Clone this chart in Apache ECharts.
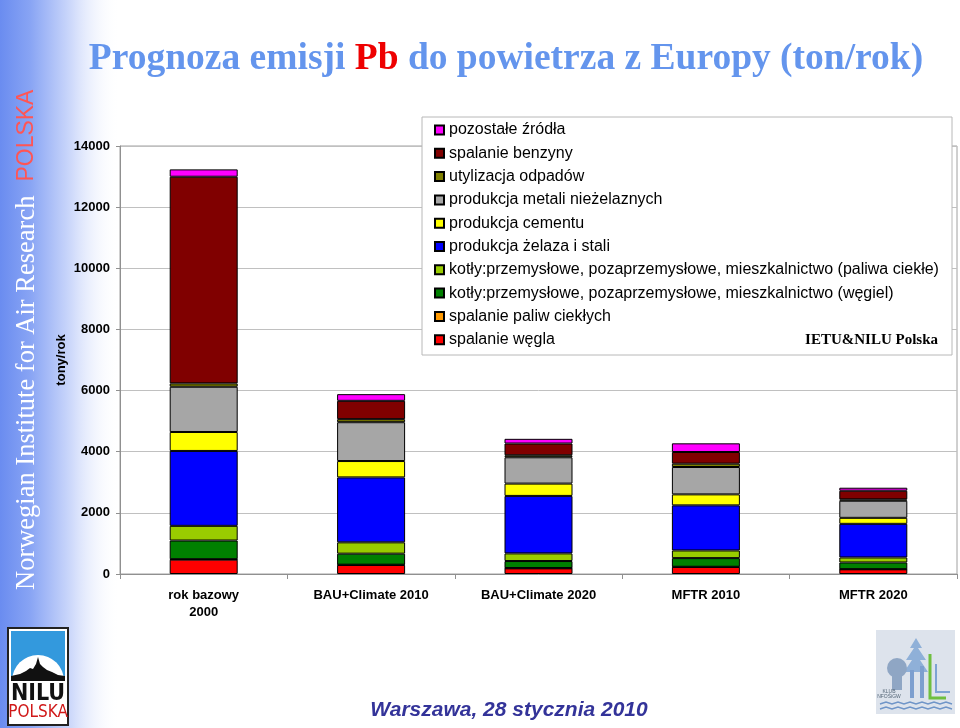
<!DOCTYPE html>
<html><head><meta charset="utf-8">
<script src="https://cdn.jsdelivr.net/npm/echarts@6/dist/echarts.min.js"></script>
<style>html,body{margin:0;padding:0;background:#fff}#c{width:960px;height:728px}</style>
</head><body><div id="c"></div>
<script>
const categories = ['rok bazowy\n2000', 'BAU+Climate 2010', 'BAU+Climate 2020', 'MFTR 2010', 'MFTR 2020'];
const yTicks = [0, 2000, 4000, 6000, 8000, 10000, 12000, 14000];
const seriesNames = [
  'spalanie węgla',
  'spalanie paliw ciekłych',
  'kotły:przemysłowe, pozaprzemysłowe, mieszkalnictwo (węgiel)',
  'kotły:przemysłowe, pozaprzemysłowe, mieszkalnictwo (paliwa ciekłe)',
  'produkcja żelaza i stali',
  'produkcja cementu',
  'produkcja metali nieżelaznych',
  'utylizacja odpadów',
  'spalanie benzyny',
  'pozostałe źródła'
];
const spalanieWegla = [470, 295, 185, 229, 153];
const spalaniePaliwCieklych = [15, 10, 10, 8, 6];
const kotlyWegiel = [610, 360, 229, 283, 218];
const kotlyPaliwaCiekle = [480, 370, 250, 250, 164];
const produkcjaZelaza = [2450, 2125, 1880, 1475, 1100];
const produkcjaCementu = [620, 535, 403, 360, 196];
const produkcjaMetali = [1480, 1270, 861, 895, 560];
const utylizacjaOdpadow = [110, 100, 65, 109, 44];
const spalanieBenzyny = [6760, 600, 385, 382, 283];
const pozostaleZrodla = [240, 218, 153, 283, 98];
const seriesColors = ['#ff0000', '#ff9900', '#008000', '#99cc00', '#0000ff', '#ffff00', '#a6a6a6', '#808000', '#800000', '#ff00ff'];

const seriesValues = [spalanieWegla, spalaniePaliwCieklych, kotlyWegiel, kotlyPaliwaCiekle, produkcjaZelaza,
  produkcjaCementu, produkcjaMetali, utylizacjaOdpadow, spalanieBenzyny, pozostaleZrodla];

const chart = echarts.init(document.getElementById('c'), null, {renderer: 'canvas'});
const series = seriesNames.map((n, i) => ({
  name: n, type: 'bar', stack: 'total', barWidth: 68,
  data: seriesValues[i],
  itemStyle: {color: seriesColors[i], borderColor: '#000', borderWidth: 1},
  emphasis: {disabled: true}
}));

const sans = '"Liberation Sans", Arial, sans-serif';
const serif = '"Liberation Serif", "Times New Roman", serif';

chart.setOption({
  animation: false,
  backgroundColor: '#fff',
  grid: {left: 120, right: 3, top: 146, bottom: 154, show: true, borderColor: '#a0a0a0', borderWidth: 1},
  xAxis: {
    type: 'category', data: categories,
    axisLine: {lineStyle: {color: '#909090'}},
    axisTick: {show: true, length: 5, lineStyle: {color: '#909090'}},
    axisLabel: {color: '#000', fontWeight: 'bold', fontSize: 13, fontFamily: sans, margin: 13, lineHeight: 17}
  },
  yAxis: {
    type: 'value', min: yTicks[0], max: yTicks[yTicks.length - 1], interval: 2000,
    name: 'tony/rok', nameLocation: 'middle', nameGap: 52, nameRotate: 90, nameMoveOverlap: false,
    nameTextStyle: {color: '#000', fontWeight: 'bold', fontSize: 13, fontFamily: sans},
    axisLine: {show: true, lineStyle: {color: '#909090'}},
    axisTick: {show: true, length: 4, lineStyle: {color: '#909090'}},
    splitLine: {lineStyle: {color: '#c0c0c0'}},
    axisLabel: {color: '#000', fontWeight: 'bold', fontSize: 13, fontFamily: sans, margin: 10,
      formatter: v => String(v)}
  },
  legend: {
    data: seriesNames.slice().reverse(),
    orient: 'vertical', left: 434, top: 122, z: 20, padding: 0,
    itemWidth: 9, itemHeight: 9, itemGap: 7.3,
    icon: 'rect', selectedMode: false,
    textStyle: {color: '#000', fontSize: 16, fontFamily: sans, lineHeight: 16}
  },
  graphic: {elements: [
    {type: 'rect', z: -10, shape: {x: 0, y: 0, width: 120, height: 728},
      style: {fill: new echarts.graphic.LinearGradient(0, 0, 1, 0, [
        {offset: 0, color: '#6a8cf0'}, {offset: 0.25, color: '#88a4f4'}, {offset: 0.6, color: '#cfdafb'}, {offset: 1, color: 'rgba(255,255,255,0)'}])}},
    {type: 'text', z: 5, x: 27, y: 590, rotation: Math.PI / 2,
      style: {text: '{a|Norwegian Institute for Air Research}{b|POLSKA}', textAlign: 'left', textVerticalAlign: 'middle',
        rich: {a: {fontFamily: serif, fontSize: 26.5, fill: '#ffffff', color: '#ffffff'},
               b: {fontFamily: sans, fontSize: 23, fill: '#ff5555', color: '#ff5555', padding: [0, 0, 0, 14]}}}},
    {type: 'text', z: 5, x: 506, y: 59,
      style: {text: '{a|Prognoza emisji }{b|Pb}{a| do powietrza z Europy (ton/rok)}', textAlign: 'center', textVerticalAlign: 'middle',
        rich: {a: {fontFamily: serif, fontWeight: 'bold', fontSize: 37.5, fill: '#6495ed', color: '#6495ed'},
               b: {fontFamily: serif, fontWeight: 'bold', fontSize: 37.5, fill: '#ee0000', color: '#ee0000'}}}},
    {type: 'rect', z: 15, shape: {x: 422, y: 117, width: 530, height: 238},
      style: {fill: '#fff', stroke: '#b8b8b8', lineWidth: 1}},
    {type: 'text', z: 25, x: 938, y: 340,
      style: {text: 'IETU&NILU Polska', textAlign: 'right', textVerticalAlign: 'middle',
        font: 'bold 15px ' + serif, fill: '#000'}},
    {type: 'text', z: 5, x: 509, y: 710,
      style: {text: 'Warszawa, 28 stycznia 2010', textAlign: 'center', textVerticalAlign: 'middle',
        font: 'italic bold 21px ' + sans, fill: '#333399'}},
    // NILU POLSKA logo
    {type: 'rect', z: 5, shape: {x: 8, y: 628, width: 60, height: 97}, style: {fill: '#fff', stroke: '#222', lineWidth: 2}},
    {type: 'rect', z: 6, shape: {x: 11, y: 631, width: 54, height: 50}, style: {fill: '#3399dd'}},
    {type: 'sector', z: 7, shape: {cx: 38, cy: 681, r: 26, r0: 0, startAngle: Math.PI, endAngle: 2 * Math.PI}, style: {fill: '#fff'}},
    {type: 'polygon', z: 8, shape: {points: [[11, 681], [11, 676], [20, 674], [26, 671], [30, 668], [33, 669], [36, 664], [38, 657], [40, 664], [43, 667], [47, 670], [52, 672], [58, 675], [65, 676], [65, 681]]}, style: {fill: '#111'}},
    {type: 'rect', z: 6, shape: {x: 11, y: 681, width: 54, height: 41}, style: {fill: '#fff'}},
    {type: 'text', z: 8, x: 38, y: 694, style: {text: 'NILU', textAlign: 'center', textVerticalAlign: 'middle', font: 'bold 23px "DejaVu Sans Condensed", ' + sans, fill: '#111'}},
    {type: 'text', z: 8, x: 38, y: 713, style: {text: 'POLSKA', textAlign: 'center', textVerticalAlign: 'middle', font: '17px "DejaVu Sans Condensed", ' + sans, fill: '#d01818'}},
    // KLUB NFOSiGW logo
    {type: 'rect', z: 5, shape: {x: 876, y: 630, width: 79, height: 84}, style: {fill: '#dde3ec'}},
    {type: 'polygon', z: 6, shape: {points: [[916, 638], [910, 648], [914, 648], [906, 660], [912, 660], [904, 672], [928, 672], [920, 660], [926, 660], [918, 648], [922, 648]]}, style: {fill: '#8fb0d8'}},
    {type: 'circle', z: 7, shape: {cx: 897, cy: 668, r: 10}, style: {fill: '#8fa6c4'}},
    {type: 'rect', z: 7, shape: {x: 892, y: 676, width: 10, height: 14}, style: {fill: '#8fa6c4'}},
    {type: 'rect', z: 7, shape: {x: 910, y: 670, width: 4, height: 28}, style: {fill: '#7d9fcf'}},
    {type: 'rect', z: 7, shape: {x: 920, y: 666, width: 4, height: 32}, style: {fill: '#7d9fcf'}},
    {type: 'polyline', z: 7, shape: {points: [[930, 654], [930, 698], [946, 698]]}, style: {stroke: '#6fbf3f', lineWidth: 3, fill: null}},
    {type: 'polyline', z: 7, shape: {points: [[936, 664], [936, 692], [950, 692]]}, style: {stroke: '#7da3d3', lineWidth: 2, fill: null}},
    {type: 'text', z: 8, x: 889, y: 694, style: {text: 'KLUB\nNFOŚiGW', textAlign: 'center', textVerticalAlign: 'middle', font: '5px ' + sans, fill: '#556677'}},
    {type: 'polyline', z: 7, shape: {points: [[880, 704], [886, 702], [892, 704], [898, 702], [904, 704], [910, 702], [916, 704], [922, 702], [928, 704], [934, 702], [940, 704], [946, 702], [952, 704]]}, style: {stroke: '#6f95c8', lineWidth: 1.5, fill: null}},
    {type: 'polyline', z: 7, shape: {points: [[880, 709], [886, 707], [892, 709], [898, 707], [904, 709], [910, 707], [916, 709], [922, 707], [928, 709], [934, 707], [940, 709], [946, 707], [952, 709]]}, style: {stroke: '#6f95c8', lineWidth: 1.5, fill: null}}
  ]},
  series: series
});
</script></body></html>
